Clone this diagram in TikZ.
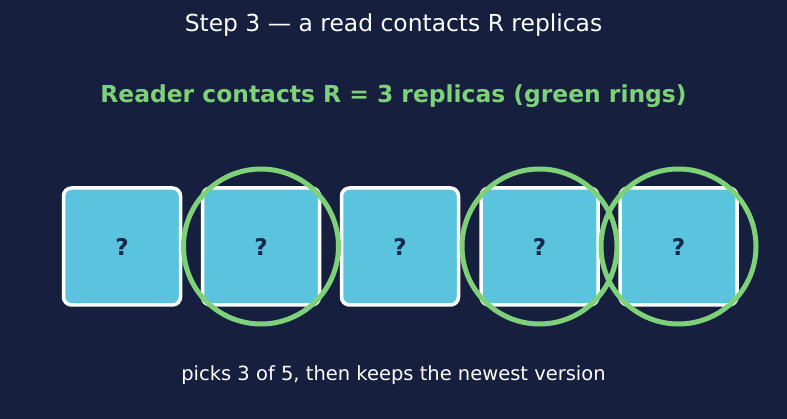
\documentclass[tikz,border=0pt]{standalone}
\usepackage{fontspec}
\setmainfont{DejaVu Sans}
\definecolor{cnavy}{RGB}{22,32,62}
\definecolor{cbox}{RGB}{90,196,222}
\definecolor{cring}{RGB}{126,209,120}
\definecolor{cmark}{RGB}{19,40,75}
\tikzset{quorum/.style={x=1pt,y=-1pt},
  replica/.style={fill=cbox,draw=white,line width=3.5pt,rounded corners=8pt,
    minimum width=117pt,minimum height=117pt,inner sep=0pt,
    font=\fontsize{23}{27}\selectfont\bfseries,text=cmark},
  ring/.style={draw=cring,line width=5pt}}

\begin{document}
\begin{tikzpicture}[quorum]
    \fill[cnavy] (0,0) rectangle (787,419);
    \useasboundingbox (0,0) rectangle (787,419);
    \node[white,font=\fontsize{23.4}{28}\selectfont] (title) at (393.5,25) {Step 3 — a read contacts R replicas};
    \node[cring,font=\fontsize{23.4}{28}\selectfont\bfseries] (sub) at (393.5,96) {Reader contacts R = 3 replicas (green rings)};
    \foreach \i/\x in {1/122,2/261,3/400,4/539.5,5/678.5}
      \node[replica] (r\i) at (\x,246.5) {?};
    \foreach \i in {2,4,5} \draw[ring] (r\i.center) circle (77.5);
    \node[white,font=\fontsize{19.5}{23}\selectfont] (note) at (393.5,375) {picks 3 of 5, then keeps the newest version};
\end{tikzpicture}
\end{document}
